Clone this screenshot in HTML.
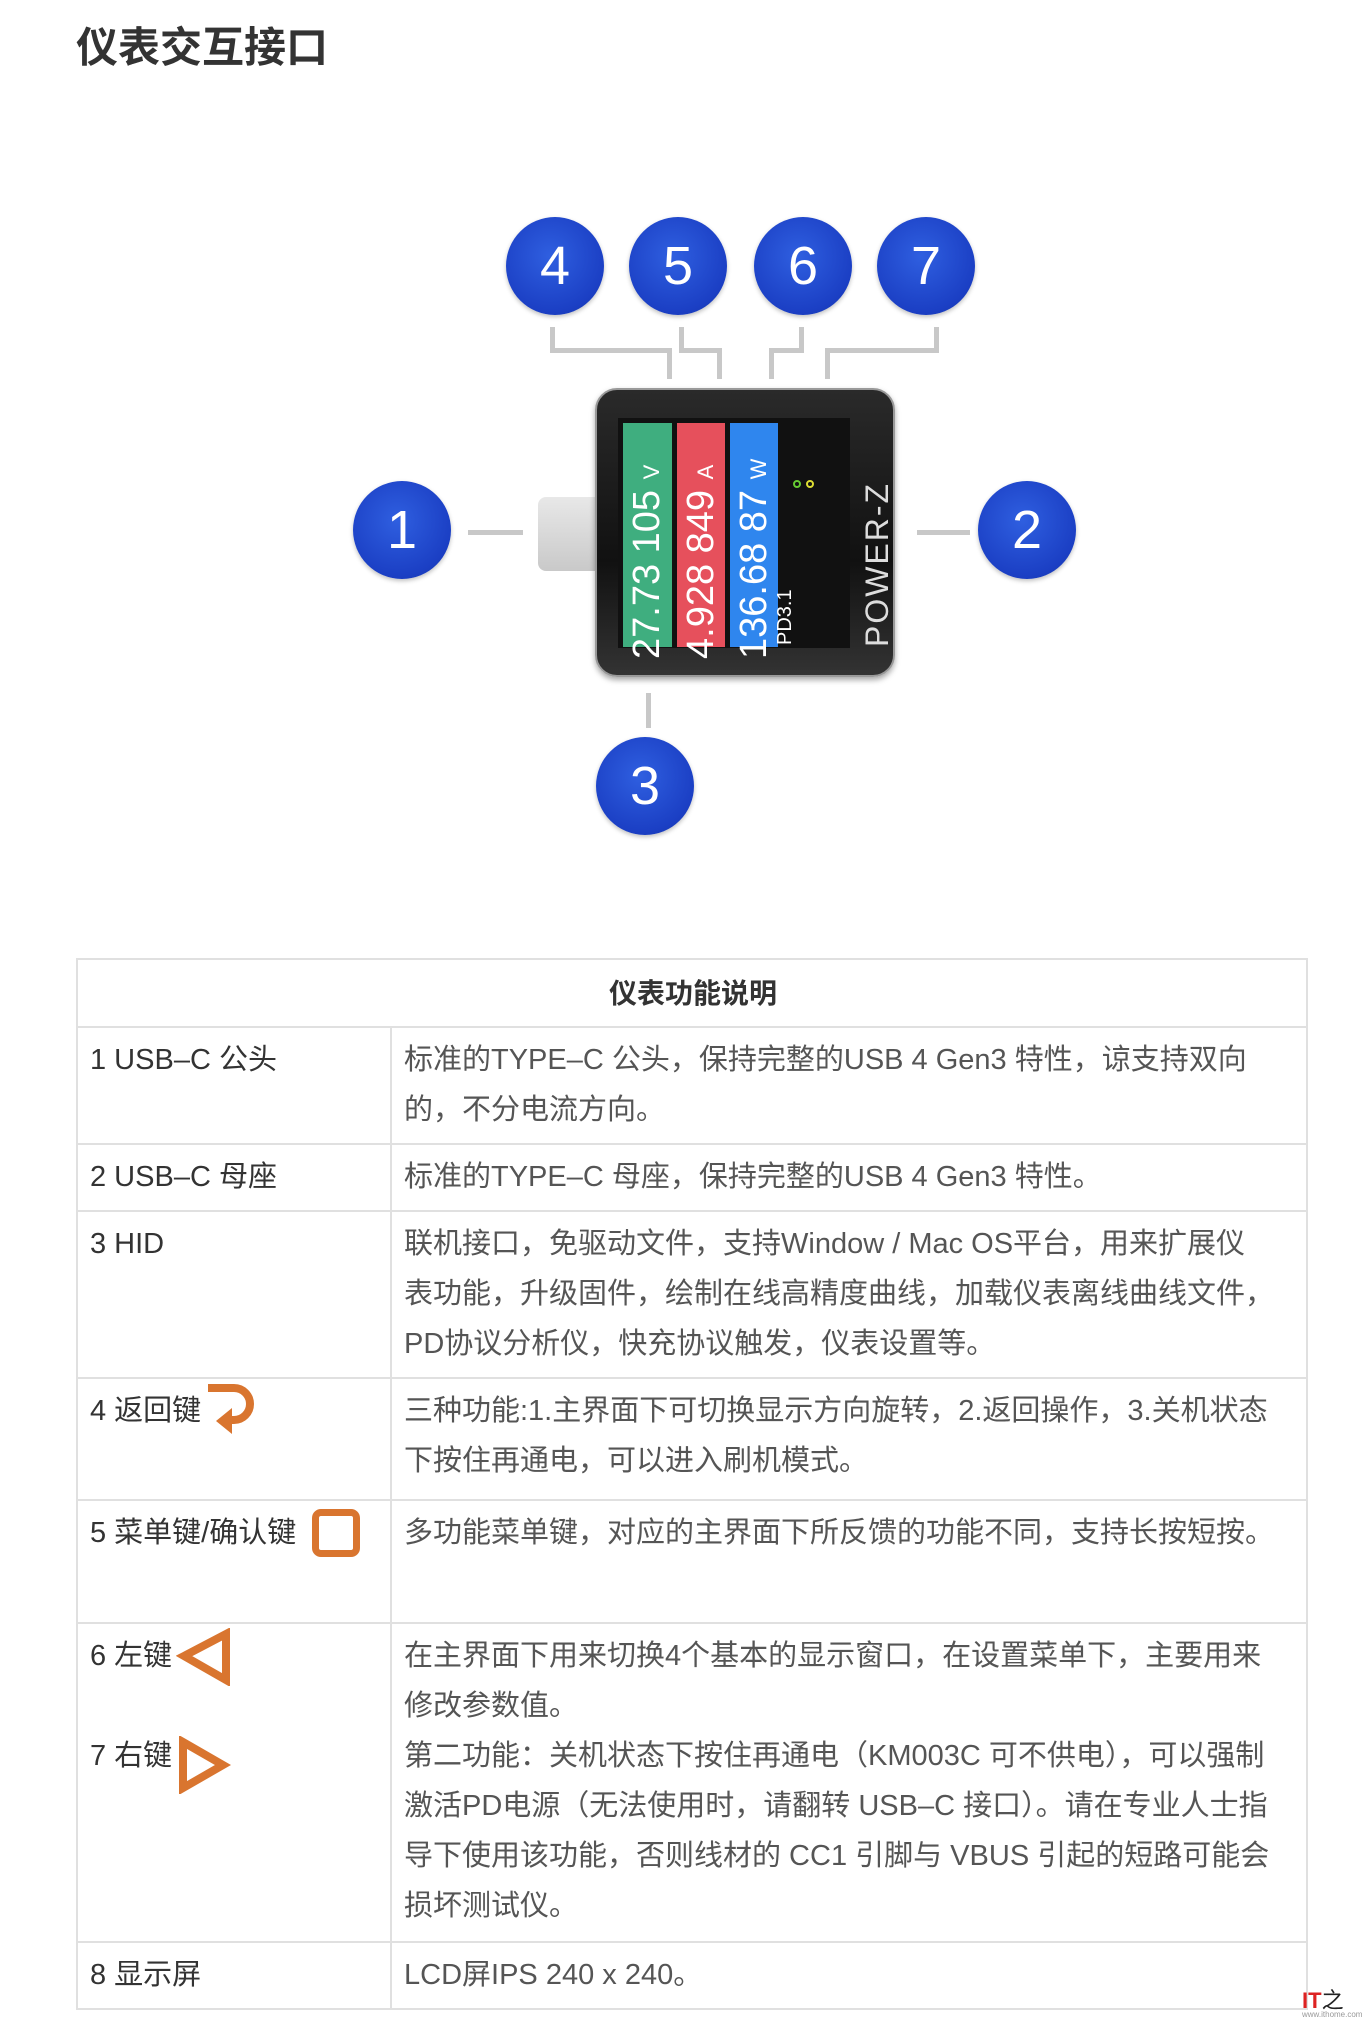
<!DOCTYPE html>
<html><head><meta charset="utf-8">
<style>
*{margin:0;padding:0;box-sizing:border-box}
body{width:1372px;height:2038px;background:#fff;position:relative;overflow:hidden;font-family:"Liberation Sans","Noto Sans CJK SC",sans-serif;color:#333}
.abs{position:absolute}
.c{position:absolute;width:98px;height:98px;border-radius:50%;background:radial-gradient(circle at 45% 40%,#2f5fe0,#1b3fc4 70%,#17339f);color:#fff;font-size:54px;display:flex;align-items:center;justify-content:center;box-shadow:0 2px 4px rgba(0,0,0,.25)}
.ln{position:absolute;background:#c8c8c8}
table{position:absolute;left:76px;top:958px;width:1232px;border-collapse:collapse}
td{border:2px solid #e0e0e0;vertical-align:top;font-size:29px;line-height:50px;padding:7px 10px 0 12px;white-space:nowrap}
td.l{width:314px;color:#333}
td.r{color:#555}
.strip{position:absolute;top:423px;height:224px;}
.vt{position:absolute;transform:rotate(-90deg);transform-origin:center;white-space:nowrap;color:#fff}
</style></head><body>
<div class="abs" style="left:76px;top:14px;font-size:42px;font-weight:bold;color:#333">仪表交互接口</div>

<div class="ln" style="left:550px;top:327px;width:5px;height:26px"></div>
<div class="ln" style="left:550px;top:348px;width:122px;height:5px"></div>
<div class="ln" style="left:667px;top:348px;width:5px;height:31px"></div>
<div class="ln" style="left:679px;top:327px;width:5px;height:26px"></div>
<div class="ln" style="left:679px;top:348px;width:43px;height:5px"></div>
<div class="ln" style="left:717px;top:348px;width:5px;height:31px"></div>
<div class="ln" style="left:799px;top:327px;width:5px;height:26px"></div>
<div class="ln" style="left:769px;top:348px;width:35px;height:5px"></div>
<div class="ln" style="left:769px;top:348px;width:5px;height:31px"></div>
<div class="ln" style="left:934px;top:327px;width:5px;height:26px"></div>
<div class="ln" style="left:825px;top:348px;width:114px;height:5px"></div>
<div class="ln" style="left:825px;top:348px;width:5px;height:31px"></div>
<div class="ln" style="left:468px;top:530px;width:55px;height:5px"></div>
<div class="ln" style="left:917px;top:530px;width:53px;height:5px"></div>
<div class="ln" style="left:646px;top:693px;width:5px;height:35px"></div>

<div class="c" style="left:506px;top:217px">4</div>
<div class="c" style="left:629px;top:217px">5</div>
<div class="c" style="left:754px;top:217px">6</div>
<div class="c" style="left:877px;top:217px">7</div>
<div class="c" style="left:353px;top:481px">1</div>
<div class="c" style="left:978px;top:481px">2</div>
<div class="c" style="left:596px;top:737px">3</div>

<div class="abs" style="left:538px;top:497px;width:70px;height:74px;background:linear-gradient(#e8e8e8,#c9c9c9);border-radius:8px 0 0 8px"></div>
<div class="abs" style="left:595px;top:388px;width:300px;height:289px;border-radius:22px;background:linear-gradient(180deg,#2a2a2a,#111 60%,#333);box-shadow:0 3px 6px rgba(0,0,0,.35);border:2px solid #999"></div>
<div class="abs" style="left:618px;top:418px;width:232px;height:230px;background:#111"></div>
<div class="strip" style="left:623px;width:49px;background:#3fae7f"></div>
<div class="strip" style="left:677px;width:48px;background:#e6505c"></div>
<div class="strip" style="left:730px;width:48px;background:#2f86ee"></div>
<div class="vt" style="left:527px;top:519px;width:240px;height:40px;font-size:38px;line-height:40px">27.73 105 <span style="font-size:22px">V</span></div>
<div class="vt" style="left:581px;top:519px;width:240px;height:40px;font-size:38px;line-height:40px">4.928 849 <span style="font-size:22px">A</span></div>
<div class="vt" style="left:634px;top:519px;width:240px;height:40px;font-size:38px;line-height:40px">136.68 87 <span style="font-size:22px">W</span></div>
<div class="vt" style="left:745px;top:590px;width:80px;height:30px;font-size:20px;line-height:30px">PD3.1</div>
<div class="vt" style="left:767px;top:519px;width:220px;height:36px;font-size:32px;line-height:36px;color:#ddd;letter-spacing:2px">POWER-Z</div>
<div class="abs" style="left:793px;top:480px;width:8px;height:8px;border-radius:50%;border:2px solid #6c3"></div>
<div class="abs" style="left:806px;top:480px;width:8px;height:8px;border-radius:50%;border:2px solid #dd3"></div>

<table>
<tr><td colspan="2" style="text-align:center;font-weight:bold;height:68px;padding-top:9px;color:#333;font-size:28px">仪表功能说明</td></tr>
<tr style="height:117px"><td class="l">1 USB–C 公头</td><td class="r">标准的TYPE–C 公头，保持完整的USB 4 Gen3 特性，谅支持双向<br>的，不分电流方向。</td></tr>
<tr style="height:67px"><td class="l">2 USB–C 母座</td><td class="r">标准的TYPE–C 母座，保持完整的USB 4 Gen3 特性。</td></tr>
<tr style="height:167px"><td class="l">3 HID</td><td class="r">联机接口，免驱动文件，支持Window / Mac OS平台，用来扩展仪<br>表功能，升级固件，绘制在线高精度曲线，加载仪表离线曲线文件，<br>PD协议分析仪，快充协议触发，仪表设置等。</td></tr>
<tr style="height:122px"><td class="l">4 返回键</td><td class="r">三种功能:1.主界面下可切换显示方向旋转，2.返回操作，3.关机状态<br>下按住再通电，可以进入刷机模式。</td></tr>
<tr style="height:123px"><td class="l">5 菜单键/确认键</td><td class="r">多功能菜单键，对应的主界面下所反馈的功能不同，支持长按短按。</td></tr>
<tr style="height:319px"><td class="l">6 左键<br><br>7 右键</td><td class="r">在主界面下用来切换4个基本的显示窗口，在设置菜单下，主要用来<br>修改参数值。<br>第二功能：关机状态下按住再通电（KM003C 可不供电），可以强制<br>激活PD电源（无法使用时，请翻转 USB–C 接口）。请在专业人士指<br>导下使用该功能，否则线材的 CC1 引脚与 VBUS 引起的短路可能会<br>损坏测试仪。</td></tr>
<tr style="height:67px"><td class="l">8 显示屏</td><td class="r">LCD屏IPS 240 x 240。</td></tr>
</table>

<svg class="abs" style="left:200px;top:1380px" width="64" height="58" viewBox="0 0 64 58"><path d="M8 8 H34 A16 16 0 0 1 34 40 H26" fill="none" stroke="#d9752f" stroke-width="8"/><path d="M32 28 L16 41 L32 54 Z" fill="#d9752f"/></svg>
<div class="abs" style="left:312px;top:1509px;width:48px;height:48px;border:7px solid #d9752f;border-radius:9px"></div>
<svg class="abs" style="left:176px;top:1628px" width="58" height="58" viewBox="0 0 58 58"><path d="M8 28 L50 6 L50 52 Z" fill="none" stroke="#d9752f" stroke-width="8"/></svg>
<svg class="abs" style="left:175px;top:1736px" width="56" height="58" viewBox="0 0 56 58"><path d="M8 6 L48 29 L8 52 Z" fill="none" stroke="#d9752f" stroke-width="8"/></svg>

<div class="abs" style="left:1302px;top:1983px;font-size:22px;font-weight:bold;color:#d22">IT<span style="color:#222;font-weight:normal">之</span></div>
<div class="abs" style="left:1302px;top:2010px;font-size:8px;color:#999">www.ithome.com</div>
</body></html>
